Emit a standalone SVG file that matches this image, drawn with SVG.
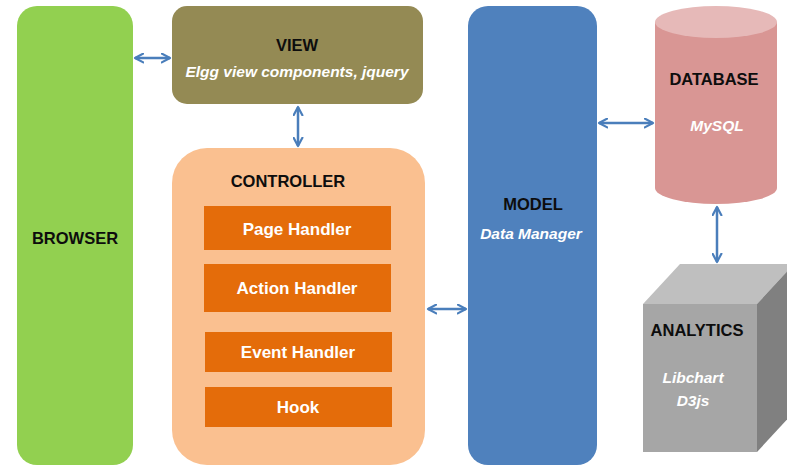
<svg xmlns="http://www.w3.org/2000/svg" width="787" height="466" viewBox="0 0 787 466">
  <defs>
    <marker id="arr" viewBox="0 0 10 10" refX="8.5" refY="5" markerWidth="11" markerHeight="11" markerUnits="userSpaceOnUse" orient="auto-start-reverse">
      <path d="M1,1 L8.5,5 L1,9" fill="none" stroke="#4A7EBB" stroke-width="2" stroke-linecap="round" stroke-linejoin="round"/>
    </marker>
  </defs>
  <style>
    text { font-family: "Liberation Sans", Arial, sans-serif; text-anchor: middle; }
    .title { font-weight: bold; font-size: 16.5px; fill: #0d0d0d; }
    .sub { font-weight: bold; font-style: italic; font-size: 15.5px; fill: #ffffff; }
    .item { font-weight: bold; font-size: 17px; fill: #ffffff; }
    .handler { fill: #E46C0A; }
    .link { stroke: #4A7EBB; stroke-width: 2.5; fill: none; marker-start: url(#arr); marker-end: url(#arr); }
  </style>
  <rect width="787" height="466" fill="#ffffff"/>

  <g id="browser">
    <rect x="17" y="6" width="116" height="459" rx="20" fill="#92D050"/>
    <text class="title" x="75" y="244">BROWSER</text>
  </g>

  <g id="view">
    <rect x="172" y="6" width="251" height="98" rx="15" fill="#948A54"/>
    <text class="title" x="297" y="51">VIEW</text>
    <text class="sub" x="297" y="77">Elgg view components, jquery</text>
  </g>

  <g id="controller">
    <rect x="172" y="148" width="253" height="317" rx="35" fill="#FAC090"/>
    <text class="title" x="288" y="187">CONTROLLER</text>
    <g id="page-handler">
      <rect class="handler" x="204" y="206" width="187" height="44"/>
      <text class="item" x="297" y="235">Page Handler</text>
    </g>
    <g id="action-handler">
      <rect class="handler" x="204" y="264" width="187" height="48"/>
      <text class="item" x="297" y="294">Action Handler</text>
    </g>
    <g id="event-handler">
      <rect class="handler" x="205" y="332" width="187" height="40"/>
      <text class="item" x="298" y="358">Event Handler</text>
    </g>
    <g id="hook">
      <rect class="handler" x="205" y="387" width="187" height="40"/>
      <text class="item" x="298" y="413">Hook</text>
    </g>
  </g>

  <g id="model">
    <rect x="468" y="6" width="129" height="459" rx="20" fill="#4F81BD"/>
    <text class="title" x="533" y="210">MODEL</text>
    <text class="sub" x="531" y="239" font-size="16px">Data Manager</text>
  </g>

  <g id="database">
    <path d="M655,22 L655,188 A61,16 0 0 0 777,188 L777,22 Z" fill="#D99694"/>
    <ellipse cx="716" cy="22" rx="61" ry="16" fill="#E6B9B8"/>
    <text class="title" x="714" y="85">DATABASE</text>
    <text class="sub" x="717" y="131" font-size="17.5px">MySQL</text>
  </g>

  <g id="analytics">
    <polygon points="643,304 680,264 794,264 757,304" fill="#BFBFBF"/>
    <polygon points="757,304 794,264 794,412 757,452" fill="#808080"/>
    <rect x="643" y="304" width="114" height="148" fill="#A6A6A6"/>
    <text class="title" x="697" y="336">ANALYTICS</text>
    <text class="sub" x="693" y="383">Libchart</text>
    <text class="sub" x="693" y="406">D3js</text>
  </g>

  <g id="connectors">
    <line class="link" x1="135" y1="58" x2="170" y2="58"/>
    <line class="link" x1="298" y1="107" x2="298" y2="146"/>
    <line class="link" x1="428" y1="309" x2="466" y2="309"/>
    <line class="link" x1="599" y1="123" x2="653" y2="123"/>
    <line class="link" x1="717" y1="207" x2="717" y2="262"/>
  </g>
</svg>
